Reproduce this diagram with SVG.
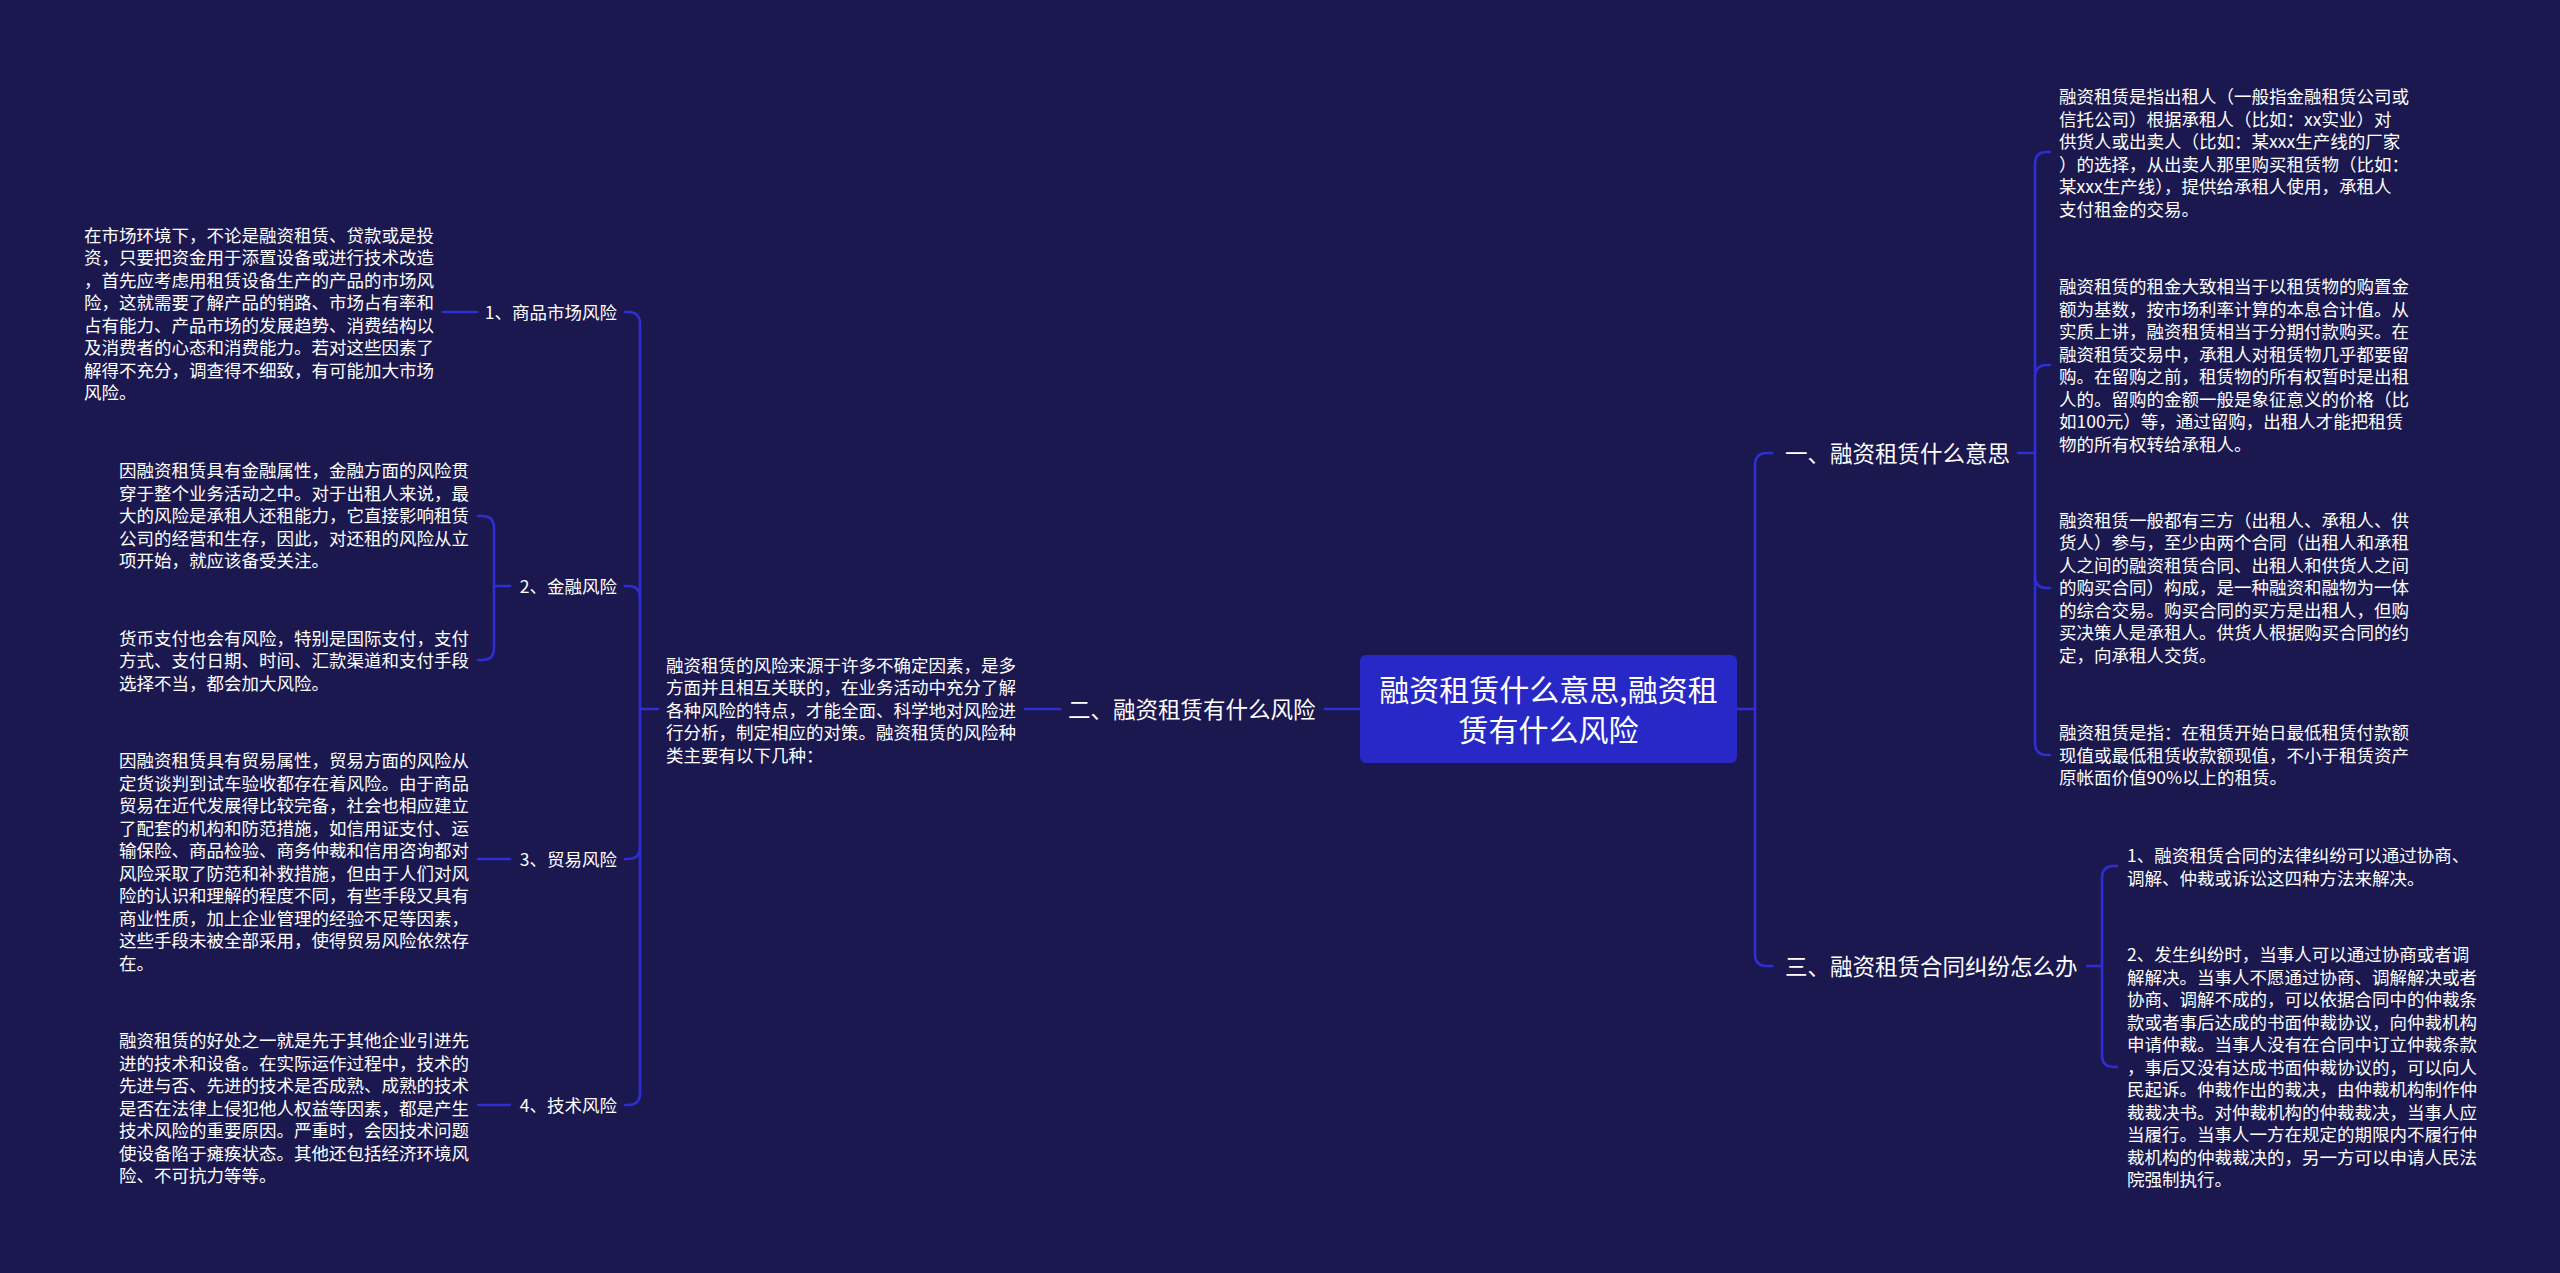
<svg xmlns="http://www.w3.org/2000/svg" width="2560" height="1273" viewBox="0 0 2560 1273">
<style>
text{font-family:"Noto Sans CJK SC","Noto Sans",sans-serif;fill:#ffffff}
.leaf{font-size:17.5px}
.lbl{font-size:22.5px}
.root{font-size:30px}
.c{fill:none;stroke:#2e2ed2;stroke-width:2.6;stroke-linecap:round}
</style>
<rect x="0" y="0" width="2560" height="1273" fill="#1a184f"/>
<g id="connectors">
<path class="c" d="M1737,709 H1755"/>
<path class="c" d="M1772,453 H1767 Q1755,453 1755,465 V954 Q1755,966 1767,966 H1772"/>
<path class="c" d="M2018,453 H2035"/>
<path class="c" d="M2050,152 H2047 Q2035,152 2035,164 V743 Q2035,755 2047,755 H2050"/>
<path class="c" d="M2035,377 Q2035,365 2047,365 H2050"/>
<path class="c" d="M2035,576 Q2035,588 2047,588 H2050"/>
<path class="c" d="M2087,966 H2102"/>
<path class="c" d="M2117,866 H2114 Q2102,866 2102,878 V1055 Q2102,1067 2114,1067 H2117"/>
<path class="c" d="M1360,709 H1325"/>
<path class="c" d="M1060,709 H1025"/>
<path class="c" d="M658,709 H640"/>
<path class="c" d="M625,312 H628 Q640,312 640,324 V1093 Q640,1105 628,1105 H625"/>
<path class="c" d="M640,598 Q640,586 628,586 H625"/>
<path class="c" d="M640,847 Q640,859 628,859 H625"/>
<path class="c" d="M477,312 H443"/>
<path class="c" d="M510,586 H494"/>
<path class="c" d="M478,516 H482 Q494,516 494,528 V648 Q494,660 482,660 H478"/>
<path class="c" d="M510,859 H478"/>
<path class="c" d="M510,1105 H478"/>
</g>
<g id="root">
<rect x="1360" y="655" width="377" height="108" rx="6" fill="#2828c6"/>
<text class="root" text-anchor="middle"><tspan x="1548.5" y="701">融资租赁什么意思,融资租</tspan><tspan x="1548.5" y="741">赁有什么风险</tspan></text>
</g>
<g id="n1">
<text class="lbl" x="1785" y="461.5">一、融资租赁什么意思</text>
</g>
<g id="n1-1">
<text class="leaf"><tspan x="2059" y="103">融资租赁是指出租人（一般指金融租赁公司或</tspan><tspan x="2059" dy="22.5">信托公司）根据承租人（比如：xx实业）对</tspan><tspan x="2059" dy="22.5">供货人或出卖人（比如：某xxx生产线的厂家</tspan><tspan x="2059" dy="22.5">）的选择，从出卖人那里购买租赁物（比如：</tspan><tspan x="2059" dy="22.5">某xxx生产线），提供给承租人使用，承租人</tspan><tspan x="2059" dy="22.5">支付租金的交易。</tspan></text>
</g>
<g id="n1-2">
<text class="leaf"><tspan x="2059" y="293.3">融资租赁的租金大致相当于以租赁物的购置金</tspan><tspan x="2059" dy="22.5">额为基数，按市场利率计算的本息合计值。从</tspan><tspan x="2059" dy="22.5">实质上讲，融资租赁相当于分期付款购买。在</tspan><tspan x="2059" dy="22.5">融资租赁交易中，承租人对租赁物几乎都要留</tspan><tspan x="2059" dy="22.5">购。在留购之前，租赁物的所有权暂时是出租</tspan><tspan x="2059" dy="22.5">人的。留购的金额一般是象征意义的价格（比</tspan><tspan x="2059" dy="22.5">如100元）等，通过留购，出租人才能把租赁</tspan><tspan x="2059" dy="22.5">物的所有权转给承租人。</tspan></text>
</g>
<g id="n1-3">
<text class="leaf"><tspan x="2059" y="526.7">融资租赁一般都有三方（出租人、承租人、供</tspan><tspan x="2059" dy="22.5">货人）参与，至少由两个合同（出租人和承租</tspan><tspan x="2059" dy="22.5">人之间的融资租赁合同、出租人和供货人之间</tspan><tspan x="2059" dy="22.5">的购买合同）构成，是一种融资和融物为一体</tspan><tspan x="2059" dy="22.5">的综合交易。购买合同的买方是出租人，但购</tspan><tspan x="2059" dy="22.5">买决策人是承租人。供货人根据购买合同的约</tspan><tspan x="2059" dy="22.5">定，向承租人交货。</tspan></text>
</g>
<g id="n1-4">
<text class="leaf"><tspan x="2059" y="739">融资租赁是指：在租赁开始日最低租赁付款额</tspan><tspan x="2059" dy="22.5">现值或最低租赁收款额现值，不小于租赁资产</tspan><tspan x="2059" dy="22.5">原帐面价值90%以上的租赁。</tspan></text>
</g>
<g id="n3">
<text class="lbl" x="1785" y="974.5">三、融资租赁合同纠纷怎么办</text>
</g>
<g id="n3-1">
<text class="leaf"><tspan x="2127" y="862">1、融资租赁合同的法律纠纷可以通过协商、</tspan><tspan x="2127" dy="22.5">调解、仲裁或诉讼这四种方法来解决。</tspan></text>
</g>
<g id="n3-2">
<text class="leaf"><tspan x="2127" y="961">2、发生纠纷时，当事人可以通过协商或者调</tspan><tspan x="2127" dy="22.5">解解决。当事人不愿通过协商、调解解决或者</tspan><tspan x="2127" dy="22.5">协商、调解不成的，可以依据合同中的仲裁条</tspan><tspan x="2127" dy="22.5">款或者事后达成的书面仲裁协议，向仲裁机构</tspan><tspan x="2127" dy="22.5">申请仲裁。当事人没有在合同中订立仲裁条款</tspan><tspan x="2127" dy="22.5">，事后又没有达成书面仲裁协议的，可以向人</tspan><tspan x="2127" dy="22.5">民起诉。仲裁作出的裁决，由仲裁机构制作仲</tspan><tspan x="2127" dy="22.5">裁裁决书。对仲裁机构的仲裁裁决，当事人应</tspan><tspan x="2127" dy="22.5">当履行。当事人一方在规定的期限内不履行仲</tspan><tspan x="2127" dy="22.5">裁机构的仲裁裁决的，另一方可以申请人民法</tspan><tspan x="2127" dy="22.5">院强制执行。</tspan></text>
</g>
<g id="n2">
<text class="lbl" x="1068" y="717.5">二、融资租赁有什么风险</text>
</g>
<g id="n2-0">
<text class="leaf"><tspan x="666" y="671.5">融资租赁的风险来源于许多不确定因素，是多</tspan><tspan x="666" dy="22.5">方面并且相互关联的，在业务活动中充分了解</tspan><tspan x="666" dy="22.5">各种风险的特点，才能全面、科学地对风险进</tspan><tspan x="666" dy="22.5">行分析，制定相应的对策。融资租赁的风险种</tspan><tspan x="666" dy="22.5">类主要有以下几种：</tspan></text>
</g>
<g id="r1">
<text class="leaf" x="617" y="318.5" text-anchor="end">1、商品市场风险</text>
</g>
<g id="r1-1">
<text class="leaf"><tspan x="84" y="241.5">在市场环境下，不论是融资租赁、贷款或是投</tspan><tspan x="84" dy="22.5">资，只要把资金用于添置设备或进行技术改造</tspan><tspan x="84" dy="22.5">，首先应考虑用租赁设备生产的产品的市场风</tspan><tspan x="84" dy="22.5">险，这就需要了解产品的销路、市场占有率和</tspan><tspan x="84" dy="22.5">占有能力、产品市场的发展趋势、消费结构以</tspan><tspan x="84" dy="22.5">及消费者的心态和消费能力。若对这些因素了</tspan><tspan x="84" dy="22.5">解得不充分，调查得不细致，有可能加大市场</tspan><tspan x="84" dy="22.5">风险。</tspan></text>
</g>
<g id="r2">
<text class="leaf" x="617" y="592.5" text-anchor="end">2、金融风险</text>
</g>
<g id="r2-1">
<text class="leaf"><tspan x="119" y="477.3">因融资租赁具有金融属性，金融方面的风险贯</tspan><tspan x="119" dy="22.5">穿于整个业务活动之中。对于出租人来说，最</tspan><tspan x="119" dy="22.5">大的风险是承租人还租能力，它直接影响租赁</tspan><tspan x="119" dy="22.5">公司的经营和生存，因此，对还租的风险从立</tspan><tspan x="119" dy="22.5">项开始，就应该备受关注。</tspan></text>
</g>
<g id="r2-2">
<text class="leaf"><tspan x="119" y="644.6">货币支付也会有风险，特别是国际支付，支付</tspan><tspan x="119" dy="22.5">方式、支付日期、时间、汇款渠道和支付手段</tspan><tspan x="119" dy="22.5">选择不当，都会加大风险。</tspan></text>
</g>
<g id="r3">
<text class="leaf" x="617" y="865.5" text-anchor="end">3、贸易风险</text>
</g>
<g id="r3-1">
<text class="leaf"><tspan x="119" y="767">因融资租赁具有贸易属性，贸易方面的风险从</tspan><tspan x="119" dy="22.5">定货谈判到试车验收都存在着风险。由于商品</tspan><tspan x="119" dy="22.5">贸易在近代发展得比较完备，社会也相应建立</tspan><tspan x="119" dy="22.5">了配套的机构和防范措施，如信用证支付、运</tspan><tspan x="119" dy="22.5">输保险、商品检验、商务仲裁和信用咨询都对</tspan><tspan x="119" dy="22.5">风险采取了防范和补救措施，但由于人们对风</tspan><tspan x="119" dy="22.5">险的认识和理解的程度不同，有些手段又具有</tspan><tspan x="119" dy="22.5">商业性质，加上企业管理的经验不足等因素，</tspan><tspan x="119" dy="22.5">这些手段未被全部采用，使得贸易风险依然存</tspan><tspan x="119" dy="22.5">在。</tspan></text>
</g>
<g id="r4">
<text class="leaf" x="617" y="1111.5" text-anchor="end">4、技术风险</text>
</g>
<g id="r4-1">
<text class="leaf"><tspan x="119" y="1047">融资租赁的好处之一就是先于其他企业引进先</tspan><tspan x="119" dy="22.5">进的技术和设备。在实际运作过程中，技术的</tspan><tspan x="119" dy="22.5">先进与否、先进的技术是否成熟、成熟的技术</tspan><tspan x="119" dy="22.5">是否在法律上侵犯他人权益等因素，都是产生</tspan><tspan x="119" dy="22.5">技术风险的重要原因。严重时，会因技术问题</tspan><tspan x="119" dy="22.5">使设备陷于瘫痪状态。其他还包括经济环境风</tspan><tspan x="119" dy="22.5">险、不可抗力等等。</tspan></text>
</g>
</svg>
